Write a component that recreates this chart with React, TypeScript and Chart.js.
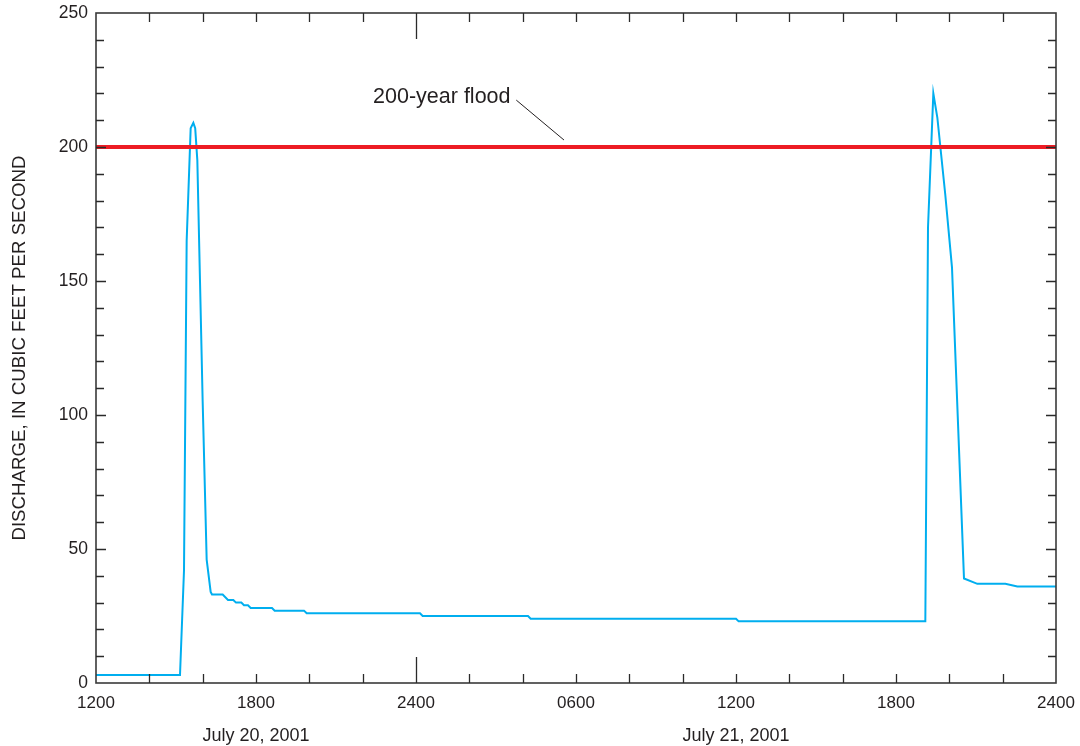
import React, { useEffect, useRef } from "react";
import { Chart, registerables } from "chart.js";

Chart.register(...registerables);

// Hours since 1200, July 20, 2001
const hours = [
  0, 3.15, 3.3, 3.4, 3.55, 3.65, 3.72, 3.8, 3.9, 4.0,
  4.15, 4.3, 4.35, 4.75, 4.95, 5.15, 5.25, 5.45, 5.55, 5.7,
  5.8, 6.6, 6.7, 7.8, 7.9, 12.15, 12.25, 16.2, 16.3, 24.0,
  24.1, 31.1, 31.2, 31.4, 31.55, 31.85, 32.1, 32.55, 33.05, 34.1,
  34.55, 36,
];
// Discharge, cubic feet per second
const discharge = [
  3, 3, 42, 165, 207, 209, 207, 195, 150, 105,
  46, 34, 33, 33, 31, 31, 30, 30, 29, 29,
  28, 28, 27, 27, 26, 26, 25, 25, 24, 24,
  23, 23, 170, 220, 211, 182, 155, 39, 37, 37,
  36, 36,
];

const floodLevel = 200;
const floodLabel = "200-year flood";

const xTickHours = [0, 6, 12, 18, 24, 30, 36];
const xTickLabels = ["1200", "1800", "2400", "0600", "1200", "1800", "2400"];
const xMinorTickHours = [2, 4, 6, 8, 10, 12, 14, 16, 18, 20, 22, 24, 26, 28, 30, 32, 34];
const yMinorTickValues = [10, 20, 30, 40, 50, 60, 70, 80, 90, 100, 110, 120, 130, 140, 150, 160, 170, 180, 190, 200, 210, 220, 230, 240];
const dateLabels = ["July 20, 2001", "July 21, 2001"];
const dateLabelHours = [6, 24];

const FONT = "'Liberation Sans', Arial, Helvetica, sans-serif";
const TEXT = "#231f20";

const framePlugin = {
  id: "frameTicks",
  afterDatasetsDraw(chart: any) {
    const { ctx, chartArea } = chart;
    const { left, right, top, bottom } = chartArea;
    const x = chart.scales.x;
    const y = chart.scales.y;
    ctx.save();
    // frame
    ctx.strokeStyle = "#3a3a3a";
    ctx.lineWidth = 1.6;
    ctx.strokeRect(left, top, right - left, bottom - top);
    // x ticks (inside, top and bottom)
    ctx.strokeStyle = "#2a2a2a";
    ctx.lineWidth = 1.3;
    ctx.beginPath();
    for (const h of xMinorTickHours) {
      const px = Math.round(x.getPixelForValue(h)) + 0.5;
      const len = h % 24 === 12 ? 26 : 9;
      ctx.moveTo(px, top);
      ctx.lineTo(px, top + len);
      ctx.moveTo(px, bottom);
      ctx.lineTo(px, bottom - len);
    }
    // y ticks (inside, left and right)
    for (const v of yMinorTickValues) {
      const py = Math.round(y.getPixelForValue(v)) + 0.5;
      const len = v % 50 === 0 ? 10 : 8;
      ctx.moveTo(left, py);
      ctx.lineTo(left + len, py);
      ctx.moveTo(right, py);
      ctx.lineTo(right - len, py);
    }
    ctx.stroke();

    // date labels
    ctx.fillStyle = TEXT;
    ctx.font = `18px ${FONT}`;
    ctx.textAlign = "center";
    ctx.textBaseline = "middle";
    dateLabelHours.forEach((h, i) => {
      ctx.fillText(dateLabels[i], x.getPixelForValue(h), bottom + 53);
    });

    // annotation
    ctx.font = `21.5px ${FONT}`;
    ctx.textAlign = "left";
    ctx.textBaseline = "middle";
    ctx.fillText(floodLabel, x.getPixelForValue(10.39), y.getPixelForValue(218.7));
    ctx.strokeStyle = "#231f20";
    ctx.lineWidth = 1;
    ctx.beginPath();
    ctx.moveTo(x.getPixelForValue(15.76), y.getPixelForValue(217.5));
    ctx.lineTo(x.getPixelForValue(17.55), y.getPixelForValue(202.6));
    ctx.stroke();
    ctx.restore();
  },
};

export default function App() {
  const ref = useRef<HTMLCanvasElement | null>(null);

  useEffect(() => {
    if (!ref.current) return;
    const series = hours.map((h, i) => ({ x: h, y: discharge[i] }));
    const flood = [
      { x: xTickHours[0], y: floodLevel },
      { x: xTickHours[xTickHours.length - 1], y: floodLevel },
    ];
    const chart = new Chart(ref.current, {
      type: "line",
      data: {
        datasets: [
          {
            label: floodLabel,
            data: flood,
            borderColor: "#ed1c24",
            borderWidth: 4,
            pointRadius: 0,
            tension: 0,
          },
          {
            label: "Discharge",
            data: series,
            borderColor: "#00aeef",
            borderWidth: 2,
            pointRadius: 0,
            tension: 0,
          },
        ],
      },
      options: {
        responsive: false,
        animation: false,
        layout: { padding: { top: 13, right: 24, bottom: 0, left: 0 } },
        plugins: {
          legend: { display: false },
          tooltip: { enabled: false },
        },
        scales: {
          x: {
            type: "linear",
            min: 0,
            max: 36,
            afterBuildTicks: (scale: any) => {
              scale.ticks = xTickHours.map((v) => ({ value: v }));
            },
            afterFit: (scale: any) => {
              scale.height = 63;
              scale.paddingLeft = 0;
              scale.paddingRight = 0;
            },
            grid: { display: false, drawTicks: false },
            border: { display: false },
            ticks: {
              autoSkip: false,
              maxRotation: 0,
              padding: 10,
              color: TEXT,
              font: { family: FONT, size: 17 },
              callback: (v: any) => {
                const i = xTickHours.indexOf(Number(v));
                return i >= 0 ? xTickLabels[i] : "";
              },
            },
          },
          y: {
            type: "linear",
            min: 0,
            max: 250,
            afterFit: (scale: any) => {
              scale.width = 96;
              scale.paddingTop = 0;
              scale.paddingBottom = 0;
            },
            grid: { display: false, drawTicks: false },
            border: { display: false },
            ticks: {
              stepSize: 50,
              padding: 8,
              color: TEXT,
              font: { family: FONT, size: 17.5 },
            },
            title: {
              display: true,
              text: "DISCHARGE, IN CUBIC FEET PER SECOND",
              color: TEXT,
              font: { family: FONT, size: 18.7 },
              padding: { top: 9, bottom: 0 },
            },
          },
        },
      },
      plugins: [framePlugin],
    });
    return () => chart.destroy();
  }, []);

  return (
    <div style={{ position: "absolute", left: 0, top: 0, width: 1080, height: 746, background: "#fff" }}>
      <canvas ref={ref} width={1080} height={746} style={{ display: "block" }} />
    </div>
  );
}
